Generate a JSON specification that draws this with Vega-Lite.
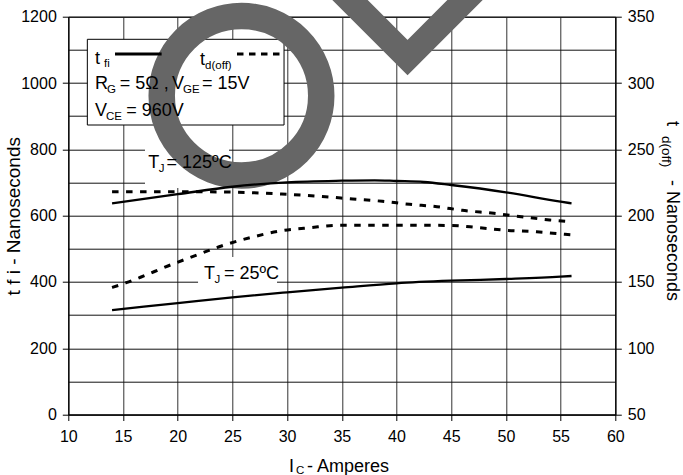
{
  "$schema": "https://vega.github.io/schema/vega-lite/v6.json",
  "width": 547,
  "height": 397.8,
  "autosize": {"type": "none"},
  "padding": {"left": 68.3, "top": 16.7, "right": 67.7, "bottom": 60.5},
  "background": "white",
  "config": {
    "font": "Liberation Sans",
    "view": {"stroke": "#000", "strokeWidth": 1},
    "axis": {"labelFont": "Liberation Sans", "titleFont": "Liberation Sans"}
  },
  "datasets": {
    "tfi": [
      {"tj": "125", "ic": 14, "v": 637},
      {"tj": "125", "ic": 20, "v": 664.6},
      {"tj": "125", "ic": 25, "v": 687},
      {"tj": "125", "ic": 30, "v": 700.5},
      {"tj": "125", "ic": 35, "v": 705.3},
      {"tj": "125", "ic": 38, "v": 706.5},
      {"tj": "125", "ic": 40, "v": 704.4},
      {"tj": "125", "ic": 42.5, "v": 701.4},
      {"tj": "125", "ic": 45, "v": 692.3},
      {"tj": "125", "ic": 50, "v": 670.3},
      {"tj": "125", "ic": 55, "v": 642},
      {"tj": "125", "ic": 56, "v": 637},
      {"tj": "25", "ic": 14, "v": 315},
      {"tj": "25", "ic": 20, "v": 336},
      {"tj": "25", "ic": 25, "v": 353.5},
      {"tj": "25", "ic": 30, "v": 368.5},
      {"tj": "25", "ic": 35, "v": 382.5},
      {"tj": "25", "ic": 40, "v": 395.8},
      {"tj": "25", "ic": 45, "v": 403.6},
      {"tj": "25", "ic": 50, "v": 408.7},
      {"tj": "25", "ic": 55, "v": 415.7},
      {"tj": "25", "ic": 56, "v": 417.8}
    ],
    "tdoff": [
      {"tj": "125", "ic": 14, "v": 218},
      {"tj": "125", "ic": 20, "v": 218},
      {"tj": "125", "ic": 25, "v": 217.7},
      {"tj": "125", "ic": 29.5, "v": 216.3},
      {"tj": "125", "ic": 33.5, "v": 214.2},
      {"tj": "125", "ic": 36, "v": 212.5},
      {"tj": "125", "ic": 38.7, "v": 210.8},
      {"tj": "125", "ic": 41.2, "v": 208.5},
      {"tj": "125", "ic": 43.7, "v": 206.7},
      {"tj": "125", "ic": 46, "v": 204},
      {"tj": "125", "ic": 48.9, "v": 201.7},
      {"tj": "125", "ic": 51.4, "v": 199.2},
      {"tj": "125", "ic": 54, "v": 196.7},
      {"tj": "125", "ic": 56, "v": 195.4},
      {"tj": "25", "ic": 14, "v": 145.8},
      {"tj": "25", "ic": 15.3, "v": 149.4},
      {"tj": "25", "ic": 16.6, "v": 153.5},
      {"tj": "25", "ic": 19.1, "v": 162},
      {"tj": "25", "ic": 21.6, "v": 169.8},
      {"tj": "25", "ic": 24, "v": 177.1},
      {"tj": "25", "ic": 26.6, "v": 183.3},
      {"tj": "25", "ic": 29.5, "v": 188.6},
      {"tj": "25", "ic": 32.1, "v": 190.9},
      {"tj": "25", "ic": 34.8, "v": 192.7},
      {"tj": "25", "ic": 40, "v": 192.7},
      {"tj": "25", "ic": 45, "v": 192.6},
      {"tj": "25", "ic": 47.5, "v": 190.9},
      {"tj": "25", "ic": 50.1, "v": 188.9},
      {"tj": "25", "ic": 52.8, "v": 187.8},
      {"tj": "25", "ic": 55.4, "v": 185.9},
      {"tj": "25", "ic": 56, "v": 185.5}
    ],
    "box": [{"x1": 11.74, "x2": 29.72, "y1": 1131.8, "y2": 873.3}],
    "labelbg": [
      {"x1": 17.01, "x2": 24.69, "y1": 806.9, "y2": 683.3},
      {"x1": 21.86, "x2": 29.08, "y1": 475.1, "y2": 375.6}
    ],
    "ring": [{"x": 25.83, "y": 961.4}],
    "check": [
      {"x": 33.92, "y": 1310.7},
      {"x": 41.01, "y": 1076.9},
      {"x": 48.09, "y": 1310.7}
    ],
    "samples": [
      {"kind": "tfi", "x1": 14.27, "x2": 18.53, "y": 1087.5},
      {"kind": "td", "x1": 25.42, "x2": 29.44, "y": 1087.5}
    ],
    "texts": [
      {"t": "t", "x": 12.44, "y": 1056.4},
      {"t": "t", "x": 22.04, "y": 1054.3},
      {"t": "R", "x": 12.44, "y": 981},
      {"t": "= 5Ω ,", "x": 14.7, "y": 981},
      {"t": "V", "x": 19.48, "y": 981},
      {"t": "= 15V", "x": 22.22, "y": 981},
      {"t": "V", "x": 12.44, "y": 900.5},
      {"t": "= 960V", "x": 15.3, "y": 900.5},
      {"t": "T", "x": 17.31, "y": 742.7},
      {"t": "= 125ºC", "x": 18.98, "y": 742.7},
      {"t": "T", "x": 22.4, "y": 408.8},
      {"t": "= 25ºC", "x": 24.23, "y": 408.8},
      {"t": "I", "x": 30.17, "y": -172.5},
      {"t": "- Amperes", "x": 31.82, "y": -172.5}
    ],
    "subs": [
      {"t": "fi", "x": 13.26, "y": 1047.4},
      {"t": "d(off)", "x": 22.5, "y": 1042.2},
      {"t": "G", "x": 13.54, "y": 968.9},
      {"t": "GE", "x": 20.48, "y": 968.9},
      {"t": "CE", "x": 13.45, "y": 888.4},
      {"t": "J", "x": 18.27, "y": 731.5},
      {"t": "J", "x": 23.36, "y": 396.7},
      {"t": "C", "x": 30.81, "y": -180.5}
    ],
    "rtitle": [
      {"t": "t", "x": 64.7, "y": 885},
      {"t": "- Nanoseconds", "x": 64.7, "y": 707.4}
    ],
    "rsub": [
      {"t": "d(off)", "x": 64.27, "y": 840}
    ]
  },
  "layer": [
    {
      "layer": [
        {
          "data": {"name": "box"},
          "mark": {"type": "rect", "fill": "white", "stroke": "#000", "strokeWidth": 1},
          "encoding": {
            "x": {"field": "x1", "type": "quantitative", "title": null, "scale": {"domain": [10, 60], "nice": false, "zero": false}},
            "x2": {"field": "x2"},
            "y": {
              "field": "y1", "type": "quantitative", "title": "t f i - Nanoseconds",
              "scale": {"domain": [0, 1200], "nice": false, "zero": false},
              "axis": {
                "values": [0, 200, 400, 600, 800, 1000, 1200],
                "grid": false,
                "labelExpr": "'' + datum.value",
                "domainColor": "#000", "tickColor": "#000", "tickSize": 6,
                "labelFontSize": 16, "labelColor": "#000", "labelPadding": 6,
                "labelOverlap": false, "labelFlush": false,
                "title": "t f i - Nanoseconds",
                "titleFontSize": 19, "titleFontWeight": "normal", "titleColor": "#000",
                "titleAngle": -90, "titleX": -49, "titleY": 199,
                "titleAlign": "center", "titleBaseline": "alphabetic"
              }
            },
            "y2": {"field": "y2"}
          }
        },
        {
          "data": {"name": "labelbg"},
          "mark": {"type": "rect", "fill": "white", "strokeWidth": 0},
          "encoding": {
            "x": {"field": "x1", "type": "quantitative", "title": null, "scale": {"domain": [10, 60], "nice": false, "zero": false}},
            "x2": {"field": "x2"},
            "y": {"field": "y1", "type": "quantitative", "title": "t f i - Nanoseconds", "scale": {"domain": [0, 1200], "nice": false, "zero": false}},
            "y2": {"field": "y2"}
          }
        },
        {
          "data": {"name": "ring"},
          "mark": {"type": "point", "shape": "circle", "filled": false, "stroke": "#666666", "strokeWidth": 26.5, "opacity": 1, "size": 25447},
          "encoding": {
            "x": {"field": "x", "type": "quantitative", "title": null, "scale": {"domain": [10, 60], "nice": false, "zero": false}},
            "y": {"field": "y", "type": "quantitative", "title": "t f i - Nanoseconds", "scale": {"domain": [0, 1200], "nice": false, "zero": false}}
          }
        },
        {
          "data": {"name": "check"},
          "mark": {"type": "line", "stroke": "#666666", "strokeWidth": 25, "strokeJoin": "miter", "strokeCap": "butt"},
          "encoding": {
            "x": {"field": "x", "type": "quantitative", "title": null, "scale": {"domain": [10, 60], "nice": false, "zero": false}},
            "y": {"field": "y", "type": "quantitative", "title": "t f i - Nanoseconds", "scale": {"domain": [0, 1200], "nice": false, "zero": false}}
          }
        },
        {
          "data": {"name": "tfi"},
          "mark": {"type": "line", "stroke": "#000", "strokeWidth": 2.3, "interpolate": "monotone"},
          "encoding": {
            "x": {"field": "ic", "type": "quantitative", "title": null, "scale": {"domain": [10, 60], "nice": false, "zero": false}},
            "y": {"field": "v", "type": "quantitative", "title": "t f i - Nanoseconds", "scale": {"domain": [0, 1200], "nice": false, "zero": false}},
            "detail": {"field": "tj", "type": "nominal"}
          }
        },
        {
          "data": {"name": "samples"},
          "transform": [{"filter": "datum.kind == 'tfi'"}],
          "mark": {"type": "rule", "stroke": "#000", "strokeWidth": 3},
          "encoding": {
            "x": {"field": "x1", "type": "quantitative", "title": null, "scale": {"domain": [10, 60], "nice": false, "zero": false}},
            "x2": {"field": "x2"},
            "y": {"field": "y", "type": "quantitative", "title": "t f i - Nanoseconds", "scale": {"domain": [0, 1200], "nice": false, "zero": false}}
          }
        },
        {
          "data": {"name": "samples"},
          "transform": [{"filter": "datum.kind == 'td'"}],
          "mark": {"type": "rule", "stroke": "#000", "strokeWidth": 3.2, "strokeDash": [6.5, 5.5]},
          "encoding": {
            "x": {"field": "x1", "type": "quantitative", "title": null, "scale": {"domain": [10, 60], "nice": false, "zero": false}},
            "x2": {"field": "x2"},
            "y": {"field": "y", "type": "quantitative", "title": "t f i - Nanoseconds", "scale": {"domain": [0, 1200], "nice": false, "zero": false}}
          }
        },
        {
          "data": {"name": "texts"},
          "mark": {"type": "text", "align": "left", "baseline": "alphabetic", "fontSize": 18, "color": "#000", "font": "Liberation Sans"},
          "encoding": {
            "x": {"field": "x", "type": "quantitative", "title": null, "scale": {"domain": [10, 60], "nice": false, "zero": false}},
            "y": {"field": "y", "type": "quantitative", "title": "t f i - Nanoseconds", "scale": {"domain": [0, 1200], "nice": false, "zero": false}},
            "text": {"field": "t"}
          }
        },
        {
          "data": {"name": "subs"},
          "mark": {"type": "text", "align": "left", "baseline": "alphabetic", "fontSize": 11.5, "color": "#000", "font": "Liberation Sans"},
          "encoding": {
            "x": {"field": "x", "type": "quantitative", "title": null, "scale": {"domain": [10, 60], "nice": false, "zero": false}},
            "y": {"field": "y", "type": "quantitative", "title": "t f i - Nanoseconds", "scale": {"domain": [0, 1200], "nice": false, "zero": false}},
            "text": {"field": "t"}
          }
        },
        {
          "data": {"name": "rtitle"},
          "mark": {"type": "text", "align": "left", "baseline": "alphabetic", "angle": 90, "fontSize": 18, "color": "#000", "font": "Liberation Sans"},
          "encoding": {
            "x": {"field": "x", "type": "quantitative", "title": null, "scale": {"domain": [10, 60], "nice": false, "zero": false}},
            "y": {"field": "y", "type": "quantitative", "title": "t f i - Nanoseconds", "scale": {"domain": [0, 1200], "nice": false, "zero": false}},
            "text": {"field": "t"}
          }
        },
        {
          "data": {"name": "rsub"},
          "mark": {"type": "text", "align": "left", "baseline": "alphabetic", "angle": 90, "fontSize": 13.5, "color": "#000", "font": "Liberation Sans"},
          "encoding": {
            "x": {"field": "x", "type": "quantitative", "title": null, "scale": {"domain": [10, 60], "nice": false, "zero": false}},
            "y": {"field": "y", "type": "quantitative", "title": "t f i - Nanoseconds", "scale": {"domain": [0, 1200], "nice": false, "zero": false}},
            "text": {"field": "t"}
          }
        }
      ]
    },
    {
      "layer": [
        {
          "data": {"name": "tdoff"},
          "mark": {"type": "line", "stroke": "#000", "strokeWidth": 3, "strokeDash": [6.5, 7.5], "interpolate": "monotone"},
          "encoding": {
            "x": {
              "field": "ic", "type": "quantitative", "title": null,
              "scale": {"domain": [10, 60], "nice": false, "zero": false},
              "axis": {
                "values": [10, 15, 20, 25, 30, 35, 40, 45, 50, 55, 60],
                "grid": true, "gridColor": "#333", "gridWidth": 1,
                "domainColor": "#000", "tickColor": "#000", "tickSize": 6,
                "labelFontSize": 16, "labelColor": "#000", "labelPadding": 8,
                "labelFlush": false, "labelOverlap": false, "title": null
              }
            },
            "y": {
              "field": "v", "type": "quantitative",
              "scale": {"domain": [50, 350], "nice": false, "zero": false},
              "axis": {
                "orient": "right",
                "values": [50, 75, 100, 125, 150, 175, 200, 225, 250, 275, 300, 325, 350],
                "grid": true,
                "gridColor": "#111111",
                "gridWidth": 1,
                "encode": {
                  "grid": {"update": {"stroke": {"signal": "datum.value % 50 === 0 ? '#111111' : '#a8a8a8'"}}}
                },
                "tickColor": {"condition": {"test": "datum.value % 50 === 0", "value": "#000000"}, "value": "transparent"},
                "labelExpr": "datum.value % 50 === 0 ? '' + datum.value : ''",
                "domainColor": "#000", "tickSize": 6,
                "labelFontSize": 16, "labelColor": "#000", "labelPadding": 6,
                "labelOverlap": false, "labelFlush": false,
                "title": null
              }
            },
            "detail": {"field": "tj", "type": "nominal"}
          }
        }
      ]
    }
  ],
  "resolve": {"scale": {"y": "independent"}}
}
